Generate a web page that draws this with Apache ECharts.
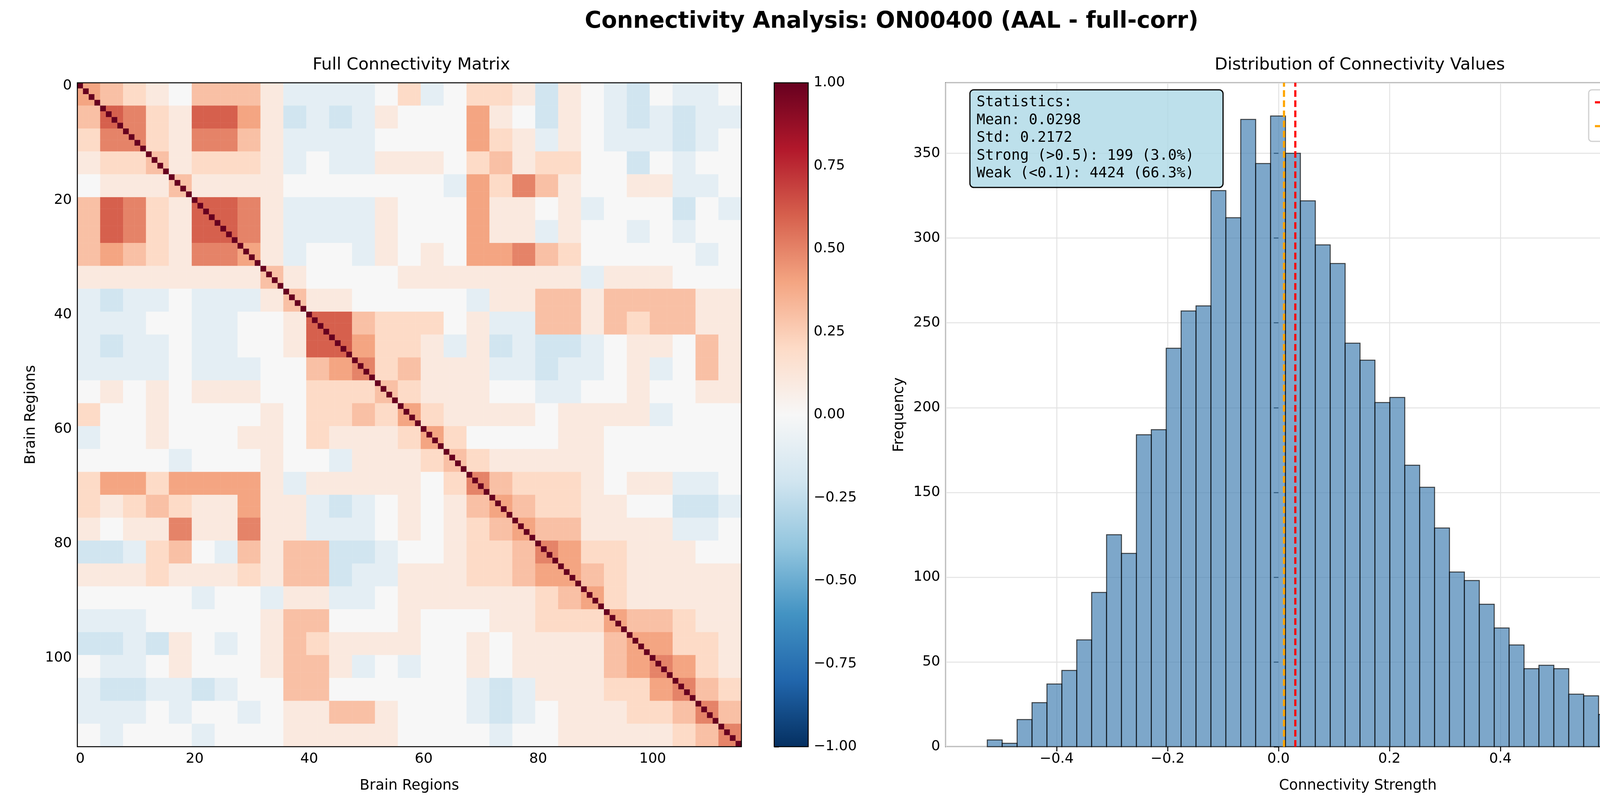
<!DOCTYPE html>
<html><head><meta charset="utf-8">
<script src="https://cdn.jsdelivr.net/npm/echarts@6/dist/echarts.min.js"></script>
<style>html,body{margin:0;padding:0;background:#fff;overflow:hidden}#c{width:4565px;height:2069px}</style>
</head><body><div id="c"></div>
<script>
// ---- DATA ----
// Connectivity matrix read per 4-region block (lower triangle); '0'-'9' = 0.0..0.9, 'a'-'e' = -0.1..-0.5
const regionCount = 116;
const blockSize = 4;
const blockLower = [
"4","36","255","1223","01113","365216","3652166","34321554","111111113",
"abaa0aaa13","aaa00aa0016","abaa0aa00166","aaaa0aaa00345","01010111002223",
"200100001022324","a001000110211124","0000a000100a11123","244244441a11111025",
"2123211411aba010134","1011511511aaa0101234","bba230a3133bba0012235",
"11121112133baa11122344","00000a00a11aa0111111234","aaa000001330001000112224",
"bbab10a013211110010111134","0aa010001331a0a00101111345","abbaaba0033000000aba1112245",
"aaa0a00a011331000aba01112235","0a000a000111110000a0011111235"
];
const histCounts = [4,2,16,26,37,45,63,91,125,114,184,187,235,257,260,328,312,370,344,372,350,322,296,285,
  238,228,203,206,166,153,129,103,98,84,70,60,46,48,46,31,30,19,22,22,9,15,5,5,5,4];
const binStart = -0.525, binWidth = 0.02688;
const meanVal = 0.0298, medianVal = 0.009;
const statsLines = ["Statistics:","Mean: 0.0298","Std: 0.2172","Strong (>0.5): 199 (3.0%)","Weak (<0.1): 4424 (66.3%)"];
const matrixTicks = [0,20,40,60,80,100];

// ---- BUILD ----
function dec(c){ return (c>='0'&&c<='9') ? (+c)/10 : -(c.charCodeAt(0)-96)/10; }
const cats = Array.from({length:regionCount},(_,i)=>String(i));
const heat = [];
for(let i=0;i<regionCount;i++) for(let j=0;j<regionCount;j++){
  let v;
  if(i===j) v=1; else { const a=Math.floor(i/blockSize), b=Math.floor(j/blockSize);
    v = dec(blockLower[Math.max(a,b)][Math.min(a,b)]); }
  heat.push([j,i,v]);
}
const histData = histCounts.map((c,k)=>[binStart+k*binWidth, binStart+(k+1)*binWidth, c]);
const rdbu = ['#053061','#2166ac','#4393c3','#92c5de','#d1e5f0','#f7f7f7','#fddbc7','#f4a582','#d6604d','#b2182b','#67001f'];
const F = 'DejaVu Sans';
const minus = s => s.replace('-', '\u2212');
const lbl = {fontFamily:F, fontSize:36, color:'#000', margin:14};

const chart = echarts.init(document.getElementById('c'), null, {renderer:'canvas'});
chart.setOption({
  animation:false,
  backgroundColor:'#fff',
  title:[
    {text:'Connectivity Analysis: ON00400 (AAL - full-corr)', left:'center', top:22, textStyle:{fontFamily:F,fontSize:58,fontWeight:'bold',color:'#000'}},
    {text:'Full Connectivity Matrix', left:1048, textAlign:'center', top:140, textStyle:{fontFamily:F,fontSize:43,fontWeight:'normal',color:'#000'}},
    {text:'Distribution of Connectivity Values', left:3476, textAlign:'center', top:140, textStyle:{fontFamily:F,fontSize:43,fontWeight:'normal',color:'#000'}}
  ],
  grid:[
    {left:198, top:212, width:1700, height:1700, show:true, borderColor:'#000', borderWidth:2.5, backgroundColor:'transparent', z:5},
    {left:1982, top:212, width:87, height:1700, show:true, borderColor:'#000', borderWidth:2.5, z:5},
    {left:2421, top:212, width:2110, height:1700, show:true, borderColor:'#000', borderWidth:2.5}
  ],
  visualMap:{show:false, type:'continuous', min:-1, max:1, seriesIndex:0, inRange:{color:rdbu}},
  xAxis:[
    {gridIndex:0, type:'category', data:cats, name:'Brain Regions', nameLocation:'middle', nameGap:82,
     nameTextStyle:{fontFamily:F,fontSize:37,color:'#000'},
     axisLine:{show:false}, axisTick:{interval:(i)=>matrixTicks.includes(i), alignWithLabel:true, length:12, lineStyle:{color:'#000',width:2.5}},
     axisLabel:Object.assign({interval:(i)=>matrixTicks.includes(i)},lbl), splitLine:{show:false}},
    {gridIndex:1, type:'value', show:false, min:0, max:1},
    {gridIndex:2, type:'value', min:-0.6, max:0.886, interval:0.2, name:'Connectivity Strength', nameLocation:'middle', nameGap:82,
     nameTextStyle:{fontFamily:F,fontSize:37,color:'#000'},
     axisLine:{show:false}, axisTick:{show:true,length:12,lineStyle:{color:'#000',width:2.5}},
     axisLabel:Object.assign({showMinLabel:false, showMaxLabel:false, formatter:v=>minus(v.toFixed(1))},lbl),
     splitLine:{show:true, lineStyle:{color:'#e3e3e3', width:2.5}}}
  ],
  yAxis:[
    {gridIndex:0, type:'category', data:cats, inverse:true, name:'Brain Regions', nameLocation:'middle', nameGap:100,
     nameTextStyle:{fontFamily:F,fontSize:37,color:'#000'},
     axisLine:{show:false}, axisTick:{interval:(i)=>matrixTicks.includes(i), alignWithLabel:true, length:12, lineStyle:{color:'#000',width:2.5}},
     axisLabel:Object.assign({interval:(i)=>matrixTicks.includes(i)},lbl), splitLine:{show:false}},
    {gridIndex:1, type:'value', position:'right', min:-1, max:1, interval:0.25,
     axisLine:{show:false}, axisTick:{show:true,length:12,lineStyle:{color:'#000',width:2.5}},
     axisLabel:Object.assign({formatter:v=>minus(v.toFixed(2))},lbl), splitLine:{show:false}},
    {gridIndex:2, type:'value', min:0, max:391.6, interval:50, name:'Frequency', nameLocation:'middle', nameGap:100,
     nameTextStyle:{fontFamily:F,fontSize:37,color:'#000'},
     axisLine:{show:false}, axisTick:{show:true,length:12,lineStyle:{color:'#000',width:2.5}},
     axisLabel:Object.assign({showMaxLabel:false},lbl), splitLine:{show:true, lineStyle:{color:'#e3e3e3', width:2.5}}}
  ],
  graphic:[
    {type:'rect', shape:{x:1982,y:212,width:87,height:1700}, z:1,
     style:{fill:{type:'linear',x:0,y:0,x2:0,y2:1,colorStops:rdbu.slice().reverse().map((c,k)=>({offset:k/(rdbu.length-1),color:c}))}}},
    {type:'rect', shape:{x:2483,y:230,width:648,height:250,r:10}, z:50,
     style:{fill:'rgba(173,216,230,0.8)', stroke:'#000', lineWidth:3}},
    {type:'text', x:2500, y:240, z:51, style:{text:statsLines.join('\n'), font:'37px "DejaVu Sans Mono"', lineHeight:45.5, fill:'#000'}},
    {type:'rect', shape:{x:4067,y:230,width:448,height:132,r:8}, z:50,
     style:{fill:'rgba(255,255,255,0.8)', stroke:'#d0d0d0', lineWidth:3}},
    {type:'line', shape:{x1:4083,y1:262,x2:4167,y2:262}, z:51, style:{stroke:'#ff0000',lineWidth:5.5,lineDash:[17,9]}},
    {type:'line', shape:{x1:4083,y1:323,x2:4167,y2:323}, z:51, style:{stroke:'#ffa500',lineWidth:5.5,lineDash:[17,9]}},
    {type:'text', x:4203, y:262, z:51, style:{text:'Mean: 0.030', font:'37px "DejaVu Sans"', fill:'#000', textVerticalAlign:'middle'}},
    {type:'text', x:4203, y:323, z:51, style:{text:'Median: 0.009', font:'37px "DejaVu Sans"', fill:'#000', textVerticalAlign:'middle'}}
  ],
  series:[
    {type:'heatmap', xAxisIndex:0, yAxisIndex:0, data:heat, progressive:0, emphasis:{disabled:true}},
    {type:'custom', xAxisIndex:2, yAxisIndex:2, data:histData, z:3,
     renderItem:(params,api)=>{
       const p0=api.coord([api.value(0),api.value(2)]), p1=api.coord([api.value(1),0]);
       return {type:'rect', shape:{x:p0[0],y:p0[1],width:p1[0]-p0[0],height:p1[1]-p0[1]},
               style:{fill:'rgba(70,130,180,0.7)', stroke:'rgba(0,0,0,0.7)', lineWidth:2.5}};
     }},
    {type:'line', xAxisIndex:2, yAxisIndex:2, data:[], z:4,
     markLine:{symbol:'none', silent:true, label:{show:false},
       data:[{xAxis:meanVal, lineStyle:{color:'#ff0000',width:5.5,type:[17,9]}},
             {xAxis:medianVal, lineStyle:{color:'#ffa500',width:5.5,type:[17,9]}}]}}
  ]
});
</script></body></html>
